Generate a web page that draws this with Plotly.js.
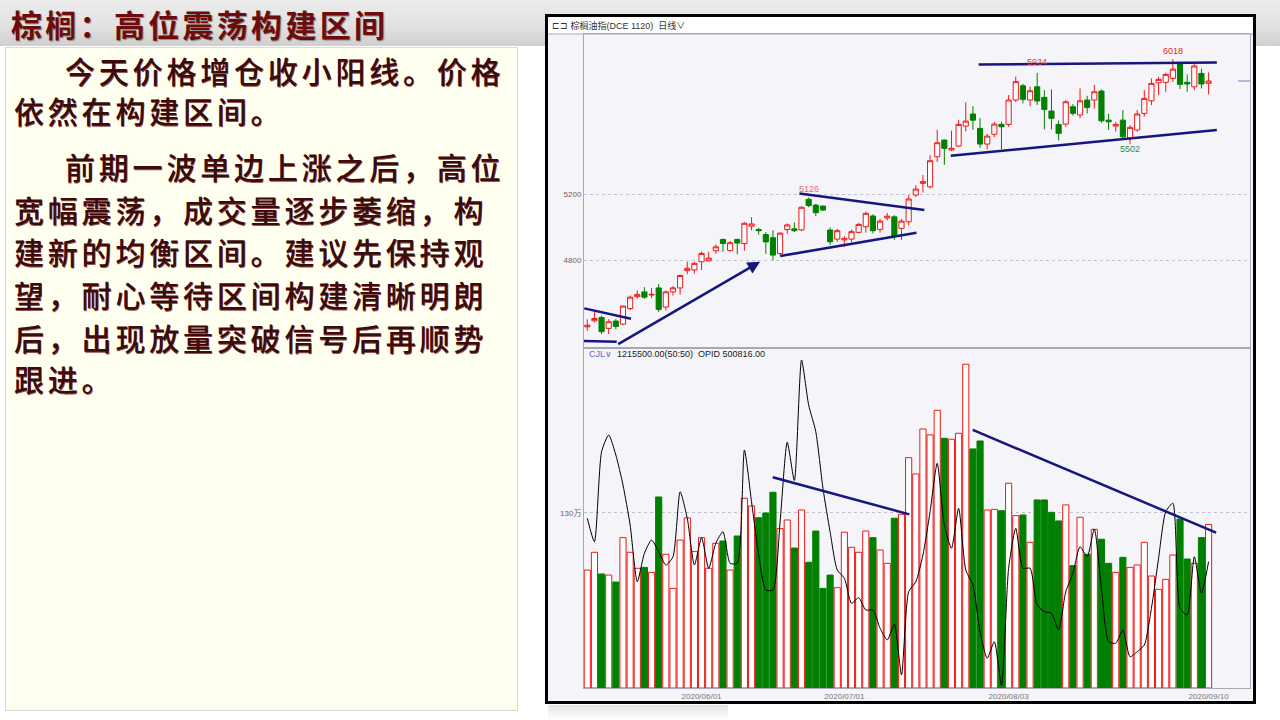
<!DOCTYPE html>
<html>
<head>
<meta charset="utf-8">
<script src="https://cdn.plot.ly/plotly-3.0.1.min.js"></script>
<style>
  html, body { margin:0; padding:0; }
  body { width:1280px; height:720px; position:relative; overflow:hidden; background:#ffffff;
         font-family:"Noto Sans CJK SC","Noto Sans",sans-serif; }
  #titlebar { position:absolute; left:0; top:0; width:1280px; height:46px;
              background:linear-gradient(to bottom,#ececec 0%,#e2e2e2 55%,#cfcfcf 100%); }
  #title { position:absolute; left:11px; top:4px; font-size:31px; font-weight:bold; letter-spacing:3.3px;
           color:#6e0c0c; text-shadow:1px 1px 1px #8a8a8a; line-height:40px; white-space:nowrap; }
  #textbox { position:absolute; left:5px; top:47px; width:513px; height:664px; background:#fffff0;
             border:1px solid #d9d9d9; box-sizing:border-box; }
  .ln { position:absolute; font-size:30px; line-height:40px; letter-spacing:3.8px; color:#3a0c0c;
        font-weight:500; white-space:nowrap; text-shadow:0.6px 0.6px 0.4px #9a5050; }
  #chartbox { position:absolute; left:545px; top:14px; width:711px; height:690px; border:3px solid #000;
              box-sizing:border-box; background:#f4f4f9; }
  #chart { position:absolute; left:0; top:0; width:705px; height:684px; }
  #shadow { position:absolute; left:548px; top:705px; width:180px; height:15px;
            background:linear-gradient(to bottom,#e4e4e4,#ffffff); }
</style>
</head>
<body>
<div id="titlebar"></div>
<div id="title">棕榈：高位震荡构建区间</div>
<div id="textbox"></div>
<div class="ln" style="left:65px;top:50px;">今天价格增仓收小阳线。价格</div>
<div class="ln" style="left:14px;top:90px;">依然在构建区间。</div>
<div class="ln" style="left:65px;top:146px;">前期一波单边上涨之后，高位</div>
<div class="ln" style="left:14px;top:189px;">宽幅震荡，成交量逐步萎缩，构</div>
<div class="ln" style="left:14px;top:231px;">建新的均衡区间。建议先保持观</div>
<div class="ln" style="left:14px;top:274px;">望，耐心等待区间构建清晰明朗</div>
<div class="ln" style="left:14px;top:317px;">后，出现放量突破信号后再顺势</div>
<div class="ln" style="left:14px;top:358px;">跟进。</div>
<div id="shadow"></div>
<div id="chartbox"><div id="chart"></div></div>

<script>
// ---------------- DATA ----------------
const dates = [
 '2020/05/08',
 '2020/05/11','2020/05/12','2020/05/13','2020/05/14','2020/05/15',
 '2020/05/18','2020/05/19','2020/05/20','2020/05/21','2020/05/22',
 '2020/05/25','2020/05/26','2020/05/27','2020/05/28','2020/05/29',
 '2020/06/01','2020/06/02','2020/06/03','2020/06/04','2020/06/05',
 '2020/06/08','2020/06/09','2020/06/10','2020/06/11','2020/06/12',
 '2020/06/15','2020/06/16','2020/06/17','2020/06/18','2020/06/19',
 '2020/06/22','2020/06/23','2020/06/24','2020/06/29','2020/06/30',
 '2020/07/01','2020/07/02','2020/07/03',
 '2020/07/06','2020/07/07','2020/07/08','2020/07/09','2020/07/10',
 '2020/07/13','2020/07/14','2020/07/15','2020/07/16','2020/07/17',
 '2020/07/20','2020/07/21','2020/07/22','2020/07/23','2020/07/24',
 '2020/07/27','2020/07/28','2020/07/29','2020/07/30','2020/07/31',
 '2020/08/03','2020/08/04','2020/08/05','2020/08/06','2020/08/07',
 '2020/08/10','2020/08/11','2020/08/12','2020/08/13','2020/08/14',
 '2020/08/17','2020/08/18','2020/08/19','2020/08/20','2020/08/21',
 '2020/08/24','2020/08/25','2020/08/26','2020/08/27','2020/08/28',
 '2020/08/31',
 '2020/09/01','2020/09/02','2020/09/03','2020/09/04',
 '2020/09/07','2020/09/08','2020/09/09','2020/09/10'
];

const openP = [
 4395,4432,4452,4386,4430,4412,4506,4578,4607,4588,
 4631,4515,4607,4631,4736,4740,4790,4795,4856,4925,
 4858,4925,4900,5005,4985,4955,4935,4840,4985,4989,
 4983,5168,5133,5127,4982,4927,4922,4927,4968,5002,
 5067,4986,5055,5062,4992,5032,5194,5265,5244,5426,
 5527,5467,5491,5612,5685,5598,5503,5562,5622,5622,
 5770,5856,5770,5850,5786,5703,5622,5624,5729,5679,
 5770,5770,5824,5648,5612,5648,5538,5588,5689,5765,
 5874,5877,5901,5996,5877,5850,5931,5871
];
const highP = [
 4440,4490,4462,4442,4442,4525,4585,4616,4636,4630,
 4655,4615,4642,4712,4790,4790,4852,4850,4895,4930,
 4915,4930,5030,5060,4995,4970,4980,4968,5022,5028,
 5126,5180,5140,5130,4998,4990,4945,4985,5025,5093,
 5077,5050,5085,5072,5050,5194,5254,5315,5436,5590,
 5530,5584,5650,5756,5733,5660,5565,5637,5638,5800,
 5912,5868,5850,5934,5830,5834,5646,5770,5745,5840,
 5795,5862,5834,5687,5638,5709,5618,5709,5830,5901,
 5911,5935,6018,6002,5925,5990,5960,5937
];
const lowP = [
 4370,4422,4352,4352,4380,4405,4495,4566,4565,4570,
 4485,4495,4585,4590,4714,4718,4740,4790,4838,4850,
 4850,4835,4856,4980,4955,4838,4800,4830,4960,4970,
 4975,5120,5066,5098,4891,4910,4880,4910,4962,4966,
 4962,4966,5040,4922,4922,5012,5182,5210,5234,5395,
 5377,5460,5485,5580,5590,5480,5470,5545,5471,5608,
 5758,5750,5734,5740,5592,5592,5525,5608,5675,5660,
 5689,5717,5632,5588,5578,5536,5502,5578,5669,5739,
 5800,5820,5880,5837,5820,5830,5840,5804
];
const closeP = [
 4405,4446,4366,4426,4398,4521,4575,4592,4575,4592,
 4501,4607,4631,4706,4750,4780,4840,4812,4880,4900,
 4905,4903,5023,5019,4978,4910,4830,4963,5013,4978,
 5120,5130,5087,5103,4911,4978,4930,4972,5016,5083,
 4978,5036,5066,4945,5036,5170,5230,5275,5402,5511,
 5477,5477,5622,5642,5648,5503,5551,5624,5608,5770,
 5881,5774,5826,5764,5713,5659,5568,5759,5689,5765,
 5725,5820,5644,5638,5622,5547,5604,5685,5780,5871,
 5895,5925,5957,5865,5867,5976,5867,5885
];
const volume = [
 876000,1008000,847000,839000,787000,1117000,1008000,889000,896000,859000,
 1419000,993000,740000,1099000,1263000,1013000,1117000,889000,1075000,1092000,
 876000,1129000,1409000,1352000,1265000,1300000,1454000,1184000,1248000,1040000,
 1322000,934000,1166000,740000,839000,745000,1157000,1045000,1008000,1166000,
 1117000,1025000,926000,1261000,1290000,1711000,1590000,1924000,1880000,2063000,
 1855000,1848000,1892000,2405000,1776000,1835000,1322000,1327000,1317000,1521000,
 1280000,1285000,1082000,1397000,1397000,1305000,1241000,1360000,909000,1268000,
 993000,1179000,1105000,926000,859000,971000,896000,914000,1082000,832000,
 733000,807000,988000,1255000,958000,926000,1117000,1215500
];
const openInterest = [
 518200,508800,544800,551500,543500,531500,515500,492800,504200,509500,
 504800,499500,502800,528800,518200,499500,510400,498200,508200,512800,
 500200,500200,545500,524800,503500,489500,489500,516800,548600,533300,
 581500,563500,552800,530200,512800,497500,494200,484200,486400,481500,
 481500,474200,469500,475800,455500,488800,492800,503500,520800,540200,
 515500,506200,522200,497500,491500,472800,462200,468800,451500,498200,
 514200,498200,498200,483500,480800,480200,473500,488800,496200,506800,
 502800,513900,490200,468800,468200,473500,462800,464800,467500,482200,
 502200,520800,524200,482200,479500,502800,488200,500816
];
const tickLabels = ['2020/06/01','2020/07/01','2020/08/03','2020/09/10'];
const priceTicks = [4800, 5200];
const volumeTicks = [1300000];
const volumeTickText = ['130万'];
// price labels marked on chart: [index, price, text]
const priceMarks = [[82, 6018, '6018'], [63, 5934, '5934'], [76, 5502, '5502'], [31, 5126, '5126']];
// hand-drawn trend lines on the price panel: [x0, p0, x1, p1]
const priceLines = [
 [-0.42, 4507, 6.12, 4444],
 [-0.46, 4309, 4.12, 4305],
 [27.0, 4824, 46.1, 4965],
 [29.7, 5204, 47.2, 5103],
 [50.9, 5432, 88.15, 5588],
 [54.8, 5985, 88.15, 5998]
];
const priceArrow = [4.12, 4285, 24.2, 4790];
// trend lines on the volume panel: [x0, v0, x1, v1]
const volumeLines = [
 [25.97, 1565000, 45.1, 1290000],
 [53.98, 1917000, 88.05, 1154000]
];
const lastVolume = 1215500.00;
const lastOI = 500816.00;

// ---------------- STYLE ----------------
const RED = '#f01818', GREEN = '#008000', NAVY = '#16167e';
const AXC = '#a8a8b4', GRID = '#c2c2c8', BG = '#f4f4f9';
const XR = [-0.46, 92.8];

const up = closeP.map((c, i) => c >= openP[i]);
const barFill = up.map(u => u ? '#ffffff' : GREEN);
const barLine = up.map(u => u ? RED : GREEN);

const traces = [
 { type:'candlestick', x:dates, open:openP, high:highP, low:lowP, close:closeP,
   xaxis:'x', yaxis:'y', whiskerwidth:0,
   increasing:{ line:{ color:RED, width:1 }, fillcolor:'#ffffff' },
   decreasing:{ line:{ color:GREEN, width:1 }, fillcolor:GREEN },
   hoverinfo:'skip' },
 { type:'bar', x:dates, y:volume, xaxis:'x2', yaxis:'y2', width:0.86,
   marker:{ color:barFill, line:{ color:barLine, width:1 } }, hoverinfo:'skip' },
 { type:'scatter', mode:'lines', x:dates, y:openInterest, xaxis:'x2', yaxis:'y3',
   line:{ color:'#000000', width:1, shape:'spline', smoothing:0.6 }, hoverinfo:'skip' }
];

const shapes = [];
// header strip
shapes.push({ type:'rect', xref:'paper', yref:'paper', x0:-36/666, x1:1+3/666, y0:1, y1:1+17/654,
  fillcolor:'#ffffff', line:{ width:0 }, layer:'below' });
shapes.push({ type:'line', xref:'paper', yref:'paper', x0:-36/666, x1:1+3/666, y0:1, y1:1,
  line:{ color:AXC, width:1 } });
priceLines.forEach(l => shapes.push({ type:'line', xref:'x', yref:'y', x0:l[0], y0:l[1], x1:l[2], y1:l[3],
  line:{ color:NAVY, width:2.5 } }));
volumeLines.forEach(l => shapes.push({ type:'line', xref:'x2', yref:'y2', x0:l[0], y0:l[1], x1:l[2], y1:l[3],
  line:{ color:NAVY, width:2.5 } }));
// last-price marker at right edge
shapes.push({ type:'line', xref:'paper', yref:'y', x0:0.982, x1:1, y0:closeP[closeP.length-1], y1:closeP[closeP.length-1],
  line:{ color:'#6f7fc4', width:1 } });

const markColor = { '6018':'#e02828', '5934':'#e03a3a', '5502':'#2e8a5a', '5126':'#e06a78' };
const annotations = [];
priceMarks.forEach(m => {
  const isLow = m[2] === '5502';
  const isBox = m[2] === '5126';
  annotations.push({ xref:'x', yref:'y', x:m[0], y:m[1], text:m[2], showarrow:false,
    yanchor: isLow ? 'top' : 'bottom', yshift: isLow ? 2 : (isBox ? 10 : (m[2]==='5934' ? 4 : 1)),
    font:{ size:9, color:markColor[m[2]], family:'Liberation Sans, Arial, sans-serif' } });
});
annotations.push({ xref:'x', yref:'y', axref:'x', ayref:'y', x:priceArrow[2], y:priceArrow[3],
  ax:priceArrow[0], ay:priceArrow[1], text:'', showarrow:true, arrowhead:2, arrowsize:1,
  arrowwidth:2.5, arrowcolor:NAVY });
annotations.push({ xref:'paper', yref:'paper', x:-34/666, y:1+8/654, xanchor:'left', yanchor:'middle',
  showarrow:false, text:'⊏⊐ 棕榈油指(DCE 1120)  日线∨',
  font:{ size:9, color:'#333333', family:'Liberation Sans, Noto Sans CJK SC, sans-serif' } });
annotations.push({ xref:'paper', yref:'paper', x:3/666, y:0.5183 - 5/654, xanchor:'left', yanchor:'middle',
  showarrow:false,
  text:'<span style="color:#5a6cc4">CJL∨</span>  ' + lastVolume.toFixed(2) + '(50:50)  OPID ' + lastOI.toFixed(2),
  font:{ size:9, color:'#222222', family:'Liberation Sans, Arial, sans-serif' } });

const layout = {
  width:705, height:684,
  margin:{ l:36, r:3, t:17, b:13 },
  paper_bgcolor:BG, plot_bgcolor:BG,
  showlegend:false,
  boxgap:0.28, boxgroupgap:0,
  font:{ family:'Liberation Sans, Noto Sans CJK SC, sans-serif', size:8, color:'#666666' },
  xaxis:{ type:'category', domain:[0,1], anchor:'y', range:XR, showticklabels:false, ticks:'',
    showgrid:false, zeroline:false, showline:true, mirror:true, linecolor:AXC, linewidth:1,
    rangeslider:{ visible:false }, fixedrange:true },
  yaxis:{ domain:[0.5214,1], anchor:'x', range:[4273,6170], tickvals:priceTicks, ticktext:priceTicks.map(String),
    ticks:'', showgrid:true, gridcolor:GRID, griddash:'dot', gridwidth:1, zeroline:false,
    showline:true, mirror:true, linecolor:AXC, tickfont:{ size:8, color:'#666666' }, fixedrange:true },
  xaxis2:{ type:'category', domain:[0,1], anchor:'y2', range:XR, tickvals:tickLabels, ticktext:tickLabels,
    ticks:'', showgrid:false, zeroline:false, showline:true, mirror:true, linecolor:AXC,
    tickfont:{ size:8, color:'#777777' }, fixedrange:true },
  yaxis2:{ domain:[0,0.5183], anchor:'x2', range:[0,2518000], tickvals:volumeTicks, ticktext:volumeTickText,
    ticks:'', showgrid:true, gridcolor:GRID, griddash:'dot', zeroline:false,
    showline:true, mirror:true, linecolor:AXC, tickfont:{ size:8, color:'#666666' }, fixedrange:true },
  yaxis3:{ overlaying:'y2', anchor:'x2', range:[450296,585896], showgrid:false, zeroline:false,
    showline:false, showticklabels:false, ticks:'', fixedrange:true },
  bargap:0.14,
  shapes:shapes,
  annotations:annotations
};

Plotly.newPlot('chart', traces, layout, { displayModeBar:false, staticPlot:true });
</script>
</body>
</html>
